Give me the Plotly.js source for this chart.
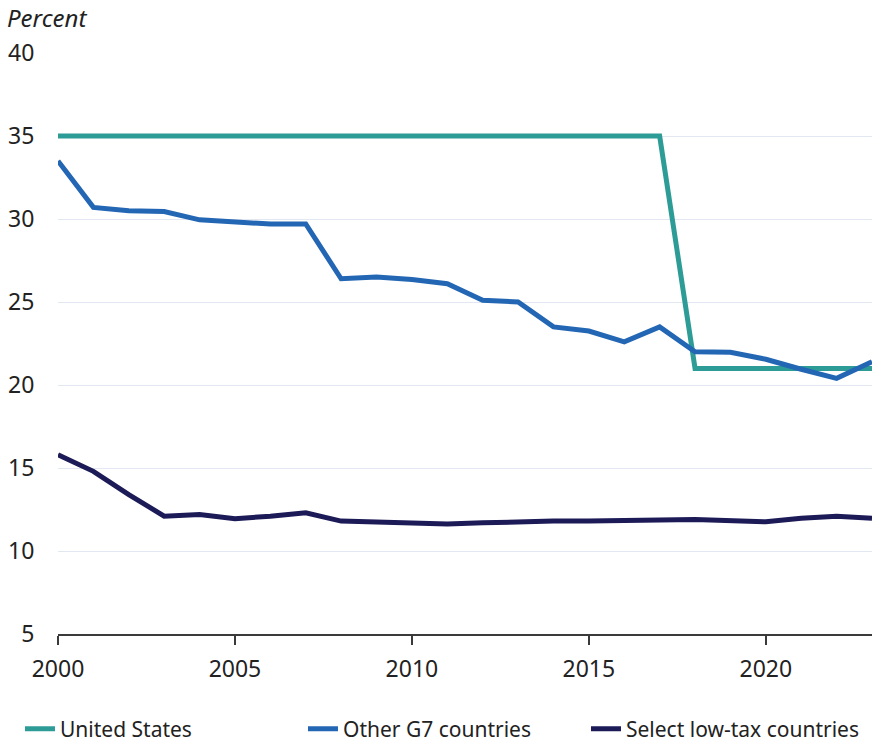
<!DOCTYPE html>
<html>
<head>
<meta charset="utf-8">
<script src="https://cdn.plot.ly/plotly-3.0.1.min.js"></script>
<style>html,body{margin:0;padding:0;background:#fff;}#chart{width:890px;height:744px;}</style>
</head>
<body>
<div id="chart"></div>
<script>
const years = [2000,2001,2002,2003,2004,2005,2006,2007,2008,2009,2010,2011,2012,2013,2014,2015,2016,2017,2018,2019,2020,2021,2022,2023];
const unitedStates = [35,35,35,35,35,35,35,35,35,35,35,35,35,35,35,35,35,35,21,21,21,21,21,21];
const otherG7 = [33.5,30.7,30.5,30.45,29.95,29.8,29.7,29.7,26.4,26.5,26.35,26.1,25.1,25.0,23.5,23.25,22.6,23.5,22.0,21.97,21.55,20.95,20.4,21.4];
const lowTax = [15.8,14.8,13.4,12.1,12.2,11.95,12.1,12.3,11.8,11.72,11.65,11.62,11.7,11.76,11.8,11.8,11.86,11.86,11.9,11.86,11.76,11.97,12.1,11.98];
const seriesNames = ["United States","Other G7 countries","Select low-tax countries"];
const colors = ["#2E9C96","#2366B4","#1C1A57"];

const font = "Noto Sans, Open Sans, sans-serif";
const traces = [unitedStates, otherG7, lowTax].map((vals, i) => ({
  x: years, y: vals, name: seriesNames[i], type: "scatter", mode: "lines",
  line: {color: colors[i], width: 5}
}));

const layout = {
  width: 890, height: 744,
  margin: {l: 58, r: 18, t: 53, b: 110, autoexpand: false},
  paper_bgcolor: "#fff", plot_bgcolor: "#fff",
  font: {family: font, size: 22, color: "#222"},
  showlegend: true,
  legend: {orientation: "h", x: -0.0467, xanchor: "left", y: -0.1635, yanchor: "middle",
           font: {family: font, size: 21, color: "#222"}, traceorder: "normal", itemwidth: 30,
           entrywidth: 238, entrywidthmode: "pixels"},
  xaxis: {range: [2000, 2023], tickmode: "array", tickvals: [2000,2005,2010,2015,2020],
          ticktext: ["2000","2005","2010","2015","2020"],
          showgrid: false, zeroline: false, showline: true, linecolor: "#3a3a3a", linewidth: 2,
          ticks: "outside", ticklen: 9, tickwidth: 1.5, tickcolor: "#3a3a3a", ticklabelstandoff: 4,
          tickfont: {family: font, size: 23, color: "#222"}},
  yaxis: {range: [5, 40], dtick: 5, tick0: 5, showgrid: true, gridcolor: "#E2E7F1", gridwidth: 1.2,
          zeroline: false, showline: false, ticks: "outside", ticklen: 18, tickcolor: "rgba(0,0,0,0)",
          tickfont: {family: font, size: 23, color: "#222"}},
  annotations: [{text: "<i>Percent</i>", xref: "paper", yref: "paper", x: -0.065, y: 1.0, yshift: 36,
                 xanchor: "left", yanchor: "middle", showarrow: false,
                 font: {family: font, size: 24, color: "#222"}}]
};
Plotly.newPlot("chart", traces, layout, {displayModeBar: false});
</script>
</body>
</html>
